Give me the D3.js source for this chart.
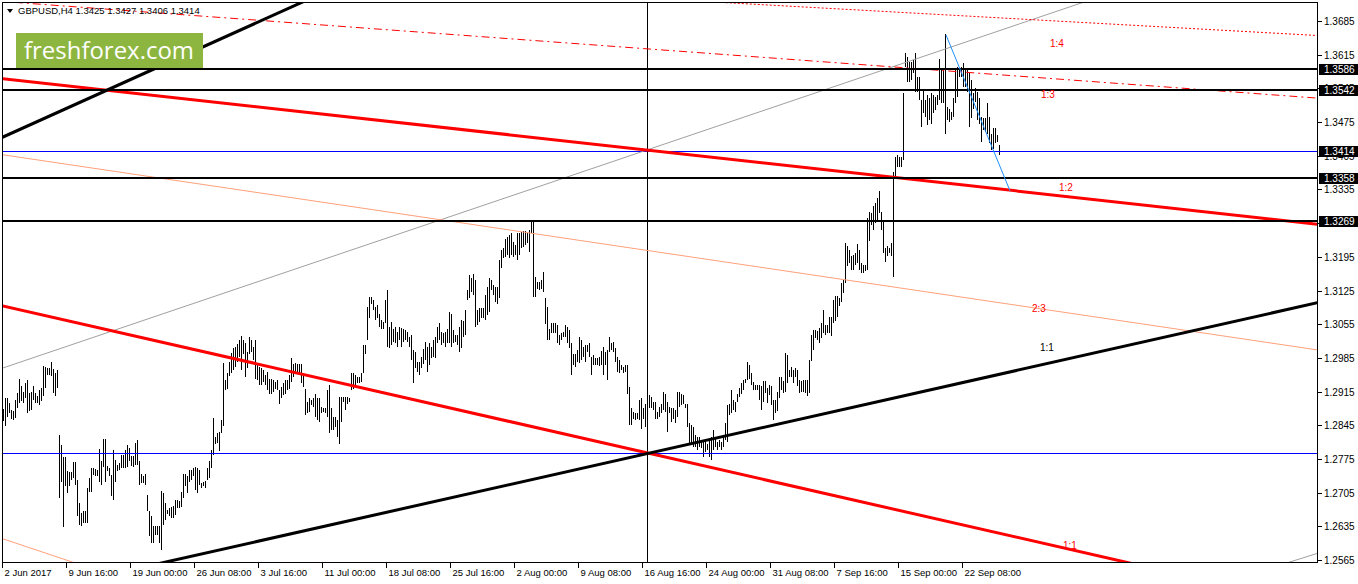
<!DOCTYPE html>
<html><head><meta charset="utf-8">
<script src="https://cdn.jsdelivr.net/npm/d3@7"></script>
<style>
body{margin:0;background:#fff;}
svg{display:block;font-family:"Liberation Sans",Arial,sans-serif;}
</style>
</head><body>
<svg id="c" width="1358" height="584"></svg>
<script>
// ---- DATA ----
const symbolTitle = "GBPUSD,H4";
const lastOHLC = [1.3425, 1.3427, 1.3406, 1.3414];

// H4 bar highs / lows (bar index 0 = 2 Jun 2017)
const barHigh = [
1.2879,1.2902,1.2902,1.2891,1.2877,1.2874,1.2898,1.2913,1.2941,1.2927,
1.2915,1.2933,1.2940,1.2912,1.2915,1.2926,1.2913,1.2906,1.2919,1.2922,
1.2969,1.2967,1.2964,1.2964,1.2977,1.2962,1.2953,1.2960,1.2825,1.2805,
1.2780,1.2780,1.2749,1.2747,1.2748,1.2768,1.2769,1.2732,1.2683,1.2662,
1.2666,1.2666,1.2714,1.2735,1.2756,1.2756,1.2754,1.2753,1.2796,1.2770,
1.2816,1.2816,1.2761,1.2756,1.2742,1.2794,1.2773,1.2763,1.2766,1.2784,
1.2784,1.2794,1.2805,1.2798,1.2782,1.2782,1.2808,1.2814,1.2770,1.2744,
1.2740,1.2744,1.2701,1.2666,1.2656,1.2636,1.2635,1.2635,1.2635,1.2709,
1.2704,1.2683,1.2669,1.2673,1.2676,1.2678,1.2690,1.2690,1.2687,1.2707,
1.2744,1.2744,1.2739,1.2753,1.2753,1.2756,1.2759,1.2756,1.2753,1.2725,
1.2728,1.2730,1.2756,1.2770,1.2794,1.2860,1.2820,1.2829,1.2832,1.2856,
1.2974,1.2940,1.2953,1.2976,1.2995,1.3005,1.3008,1.3014,1.3022,1.3030,
1.3022,1.3015,1.2998,1.3029,1.3023,1.3008,1.3022,1.2973,1.2967,1.2963,
1.2960,1.2949,1.2956,1.2942,1.2942,1.2939,1.2935,1.2939,1.2918,1.2925,
1.2932,1.2939,1.2939,1.2949,1.2984,1.2973,1.2975,1.2972,1.2973,1.2973,
1.2953,1.2921,1.2894,1.2901,1.2897,1.2901,1.2911,1.2901,1.2901,1.2883,
1.2880,1.2880,1.2918,1.2928,1.2880,1.2863,1.2863,1.2856,1.2904,1.2904,
1.2904,1.2904,1.2904,1.2901,1.2953,1.2953,1.2949,1.2946,1.2946,1.2953,
1.3012,1.3012,1.3091,1.3112,1.3112,1.3105,1.3091,1.3095,1.3077,1.3064,
1.3060,1.3105,1.3126,1.3050,1.3060,1.3046,1.3050,1.3039,1.3050,1.3048,
1.3046,1.3043,1.3039,1.3029,1.3032,1.3001,1.2998,1.2977,1.2977,1.2987,
1.3003,1.3018,1.3008,1.3015,1.3008,1.3022,1.3029,1.3050,1.3057,1.3039,
1.3036,1.3039,1.3046,1.3081,1.3077,1.3043,1.3032,1.3032,1.3050,1.3064,
1.3062,1.3084,1.3126,1.3157,1.3150,1.3159,1.3147,1.3084,1.3088,1.3088,
1.3088,1.3116,1.3133,1.3150,1.3147,1.3136,1.3133,1.3133,1.3188,1.3209,
1.3213,1.3233,1.3237,1.3240,1.3244,1.3226,1.3219,1.3244,1.3244,1.3246,
1.3249,1.3249,1.3244,1.3251,1.3268,1.3268,1.3154,1.3143,1.3143,1.3147,
1.3164,1.3110,1.3091,1.3046,1.3057,1.3057,1.3057,1.3053,1.3032,1.3037,
1.3039,1.3053,1.3050,1.3043,1.3015,1.2994,1.2994,1.3001,1.3029,1.3022,
1.3008,1.3012,1.3012,1.3015,1.2987,1.2991,1.2984,1.2984,1.2987,1.3000,
1.3008,1.2998,1.3001,1.3029,1.3015,1.3019,1.3005,1.2987,1.2980,1.2970,
1.2967,1.2970,1.2970,1.2925,1.2880,1.2873,1.2870,1.2871,1.2897,1.2901,
1.2880,1.2890,1.2897,1.2908,1.2904,1.2894,1.2894,1.2873,1.2883,1.2890,
1.2915,1.2911,1.2894,1.2883,1.2880,1.2880,1.2877,1.2915,1.2915,1.2911,
1.2908,1.2890,1.2890,1.2849,1.2845,1.2842,1.2825,1.2821,1.2821,1.2814,
1.2814,1.2811,1.2807,1.2814,1.2821,1.2835,1.2821,1.2811,1.2814,1.2811,
1.2821,1.2849,1.2887,1.2890,1.2918,1.2897,1.2894,1.2911,1.2922,1.2932,
1.2939,1.2942,1.2977,1.2970,1.2953,1.2935,1.2928,1.2928,1.2928,1.2926,
1.2936,1.2936,1.2922,1.2929,1.2926,1.2898,1.2898,1.2915,1.2946,1.2946,
1.2936,1.2995,1.2991,1.2960,1.2967,1.2960,1.2964,1.2960,1.2939,1.2936,
1.2939,1.2939,1.2939,1.2981,1.3033,1.3043,1.3043,1.3040,1.3047,1.3057,
1.3085,1.3054,1.3054,1.3071,1.3071,1.3106,1.3113,1.3113,1.3109,1.3140,
1.3147,1.3224,1.3217,1.3210,1.3196,1.3199,1.3203,1.3222,1.3210,1.3182,
1.3178,1.3178,1.3276,1.3289,1.3286,1.3300,1.3307,1.3317,1.3331,1.3289,
1.3272,1.3213,1.3217,1.3213,1.3224,1.3372,1.3403,1.3406,1.3403,1.3403,
1.3535,1.3618,1.3611,1.3600,1.3600,1.3604,1.3618,1.3569,1.3569,1.3521,
1.3541,1.3521,1.3531,1.3524,1.3535,1.3531,1.3527,1.3531,1.3607,1.3587,
1.3587,1.3659,1.3507,1.3503,1.3496,1.3524,1.3583,1.3590,1.3587,1.3590,
1.3597,1.3583,1.3583,1.3576,1.3562,1.3535,1.3545,1.3538,1.3524,1.3486,
1.3483,1.3483,1.3514,1.3486,1.3451,1.3462,1.3462,1.3448,1.3427];

const barLow = [
1.2853,1.2844,1.2863,1.2870,1.2858,1.2856,1.2860,1.2881,1.2891,1.2895,
1.2891,1.2902,1.2870,1.2874,1.2877,1.2898,1.2891,1.2891,1.2888,1.2895,
1.2905,1.2922,1.2950,1.2950,1.2947,1.2913,1.2906,1.2922,1.2694,1.2728,
1.2633,1.2718,1.2704,1.2718,1.2732,1.2735,1.2721,1.2656,1.2638,1.2636,
1.2642,1.2642,1.2642,1.2707,1.2707,1.2742,1.2740,1.2739,1.2728,1.2721,
1.2759,1.2728,1.2749,1.2739,1.2697,1.2690,1.2728,1.2749,1.2753,1.2756,
1.2756,1.2756,1.2759,1.2770,1.2761,1.2759,1.2763,1.2763,1.2721,1.2725,
1.2725,1.2721,1.2666,1.2614,1.2600,1.2601,1.2617,1.2617,1.2600,1.2586,
1.2638,1.2649,1.2661,1.2656,1.2652,1.2652,1.2659,1.2673,1.2673,1.2676,
1.2694,1.2718,1.2704,1.2728,1.2732,1.2739,1.2711,1.2704,1.2721,1.2714,
1.2718,1.2714,1.2732,1.2735,1.2756,1.2784,1.2807,1.2808,1.2791,1.2829,
1.2843,1.2919,1.2920,1.2947,1.2953,1.2960,1.2966,1.2977,1.2987,1.2960,
1.2994,1.2946,1.2963,1.2994,1.2998,1.2980,1.2942,1.2939,1.2928,1.2928,
1.2935,1.2928,1.2918,1.2911,1.2911,1.2915,1.2921,1.2918,1.2890,1.2901,
1.2908,1.2911,1.2918,1.2921,1.2935,1.2946,1.2953,1.2953,1.2949,1.2932,
1.2925,1.2866,1.2870,1.2873,1.2887,1.2883,1.2863,1.2856,1.2852,1.2870,
1.2873,1.2870,1.2863,1.2828,1.2835,1.2835,1.2842,1.2821,1.2807,1.2852,
1.2894,1.2876,1.2890,1.2894,1.2918,1.2921,1.2925,1.2932,1.2933,1.2935,
1.2953,1.2994,1.3022,1.3067,1.3098,1.3084,1.3064,1.3067,1.3050,1.3046,
1.3046,1.3057,1.3008,1.3005,1.3012,1.3018,1.3015,1.3008,1.3022,1.3008,
1.3018,1.3022,1.3018,1.3008,1.2980,1.2932,1.2963,1.2956,1.2949,1.2963,
1.2973,1.2980,1.2956,1.2970,1.2984,1.2987,1.2984,1.3015,1.3022,1.3012,
1.3015,1.3008,1.3015,1.3015,1.3008,1.3015,1.3018,1.3012,1.2998,1.3005,
1.3029,1.3032,1.3105,1.3109,1.3122,1.3115,1.3050,1.3053,1.3060,1.3067,
1.3067,1.3064,1.3074,1.3081,1.3126,1.3115,1.3102,1.3098,1.3109,1.3171,
1.3192,1.3195,1.3199,1.3192,1.3199,1.3195,1.3199,1.3188,1.3199,1.3213,
1.3216,1.3219,1.3223,1.3206,1.3244,1.3112,1.3112,1.3129,1.3126,1.3129,
1.3122,1.3055,1.3022,1.3022,1.3036,1.3036,1.3036,1.3015,1.3012,1.3022,
1.3029,1.3029,1.3015,1.3005,1.2949,1.2970,1.2967,1.2977,1.2974,1.2980,
1.2987,1.2977,1.2998,1.2987,1.2949,1.2970,1.2970,1.2970,1.2968,1.2970,
1.2949,1.2970,1.2939,1.2998,1.3001,1.2998,1.2977,1.2956,1.2953,1.2960,
1.2953,1.2956,1.2911,1.2845,1.2845,1.2859,1.2856,1.2859,1.2856,1.2838,
1.2859,1.2842,1.2863,1.2880,1.2880,1.2877,1.2859,1.2859,1.2863,1.2870,
1.2877,1.2873,1.2831,1.2870,1.2852,1.2859,1.2849,1.2863,1.2883,1.2887,
1.2890,1.2880,1.2842,1.2804,1.2807,1.2800,1.2800,1.2793,1.2800,1.2797,
1.2780,1.2790,1.2793,1.2780,1.2773,1.2793,1.2800,1.2793,1.2800,1.2793,
1.2800,1.2814,1.2811,1.2866,1.2870,1.2877,1.2873,1.2894,1.2904,1.2911,
1.2918,1.2932,1.2939,1.2942,1.2928,1.2918,1.2918,1.2918,1.2897,1.2877,
1.2894,1.2912,1.2891,1.2908,1.2887,1.2856,1.2870,1.2874,1.2901,1.2919,
1.2912,1.2915,1.2932,1.2946,1.2946,1.2932,1.2946,1.2926,1.2912,1.2915,
1.2915,1.2912,1.2905,1.2912,1.2978,1.3002,1.3026,1.3022,1.3016,1.3026,
1.3036,1.3033,1.3036,1.3036,1.3030,1.3057,1.3061,1.3071,1.3092,1.3102,
1.3120,1.3140,1.3175,1.3182,1.3168,1.3168,1.3178,1.3182,1.3168,1.3161,
1.3161,1.3165,1.3168,1.3227,1.3262,1.3251,1.3265,1.3272,1.3286,1.3251,
1.3203,1.3185,1.3196,1.3203,1.3196,1.3154,1.3361,1.3382,1.3382,1.3382,
1.3396,1.3590,1.3559,1.3559,1.3562,1.3576,1.3538,1.3538,1.3521,1.3465,
1.3493,1.3486,1.3469,1.3479,1.3472,1.3493,1.3500,1.3510,1.3521,1.3514,
1.3514,1.3451,1.3479,1.3476,1.3479,1.3486,1.3514,1.3528,1.3569,1.3569,
1.3548,1.3548,1.3538,1.3465,1.3483,1.3503,1.3517,1.3479,1.3472,1.3434,
1.3458,1.3455,1.3451,1.3431,1.3417,1.3420,1.3431,1.3434,1.3406];

// Price axis tick labels
const priceTicks = [1.3685,1.3615,1.3545,1.3475,1.3405,1.3335,1.3265,1.3195,1.3125,
                    1.3055,1.2985,1.2915,1.2845,1.2775,1.2705,1.2635,1.2565];
// Highlighted price labels (horizontal levels)
const highlightLevels = [1.3586, 1.3542, 1.3414, 1.3358, 1.3269];

// Time axis: bar index of each label and its text
const timeTickBars = [0,32,64,96,128,160,192,224,256,288,320,352,384,416,448,480];
const timeTickLabels = ["2 Jun 2017","9 Jun 16:00","19 Jun 00:00","26 Jun 08:00","3 Jul 16:00",
  "11 Jul 00:00","18 Jul 08:00","25 Jul 16:00","2 Aug 00:00","9 Aug 08:00","16 Aug 16:00",
  "24 Aug 00:00","31 Aug 08:00","7 Sep 16:00","15 Sep 00:00","22 Sep 08:00"];

// Horizontal levels
const blackLevels = [1.3586, 1.3542, 1.3358, 1.3269];
const blueLevels = [1.3414, 1.2787];
const verticalLineBar = [322];

// Trend lines as two anchor points [barIndex, price]
const blackUpper = [[0,1.3444],[149,1.3723]];
const blackLower = [[81.5,1.2561],[656.5,1.3099]];
const redLower   = [[0,1.3093],[561,1.2561]];
const redUpper   = [[0,1.3565],[656.5,1.3263]];
const salmonMain = [[0,1.3407],[656.5,1.3002]];
const salmonLow  = [[0,1.2609],[34.5,1.2561]];
const grayMain   = [[-1.5,1.2962],[539.5,1.3723]];
const grayLow    = [[643.5,1.2561],[656.5,1.2578]];
const redDashDot = [[11.5,1.3722],[656.5,1.3525]];
const redDotted  = [[362,1.3723],[656.5,1.3655]];
const swingLine  = [[471.5,1.3656],[503.5,1.3332]];

// Ratio labels [barIndex, price, text]
const ratioLabels = [[523.5,1.3631,"1:4"],[519,1.3525,"1:3"],[528,1.3332,"1:2"],
                     [514.5,1.3080,"2:3"],[518.5,1.2999,"1:1"],[530,1.2588,"1:1"]];
const ratioLabelColors = ["#ff0000","#ff0000","#ff0000","#ff0000","#000000","#ff0000"];

// ---- DRAWING ----
const svg = d3.select("#c");
const x = d3.scaleLinear().domain([0, 656.5]).range([3, 1316]);
const y = d3.scaleLinear().domain([1.25609, 1.37224]).range([562, 3]);

svg.append("defs").append("clipPath").attr("id","plotclip")
  .append("rect").attr("x",3).attr("y",3).attr("width",1314).attr("height",559);

const plot = svg.append("g").attr("clip-path","url(#plotclip)");

// bars
plot.append("g").selectAll("line").data(barHigh).join("line")
  .attr("x1",(d,i)=>Math.round(x(i))+0.5).attr("x2",(d,i)=>Math.round(x(i))+0.5)
  .attr("y1",d=>Math.round(y(d)))
  .attr("y2",(d,i)=>Math.max(Math.round(y(barLow[i])), Math.round(y(d))+1))
  .attr("stroke","#000").attr("stroke-width",1).attr("shape-rendering","crispEdges");

function ext(a,b){
  const s=(b[1]-a[1])/(b[0]-a[0]); const i0=-30, i1=720;
  return [[i0,a[1]+s*(i0-a[0])],[i1,a[1]+s*(i1-a[0])]];
}
function drawLine(pts, color, w, dash, infinite=true){
  const p = infinite ? ext(pts[0],pts[1]) : pts;
  const l = plot.append("line")
    .attr("x1",x(p[0][0])).attr("y1",y(p[0][1]))
    .attr("x2",x(p[1][0])).attr("y2",y(p[1][1]))
    .attr("stroke",color).attr("stroke-width",w).attr("fill","none");
  if(dash) l.attr("stroke-dasharray",dash);
  return l;
}

// horizontal levels
blueLevels.forEach(v=>{
  plot.append("line").attr("x1",3).attr("x2",1317)
    .attr("y1",Math.round(y(v))+0.5).attr("y2",Math.round(y(v))+0.5)
    .attr("stroke","#0000ff").attr("stroke-width",1).attr("shape-rendering","crispEdges");
});
verticalLineBar.forEach(b=>{
  plot.append("line").attr("x1",Math.round(x(b))+0.5).attr("x2",Math.round(x(b))+0.5)
    .attr("y1",3).attr("y2",562).attr("stroke","#000").attr("stroke-width",1)
    .attr("shape-rendering","crispEdges");
});

drawLine(grayMain,"#a0a0a0",1);
drawLine(grayLow,"#a0a0a0",1);
drawLine(salmonMain,"#ffa07a",1);
drawLine(salmonLow,"#ffa07a",1);
drawLine(redDashDot,"#ff0000",1,"8,4,2,4");
drawLine(redDotted,"#ff0000",1,"2,2");
drawLine(redUpper,"#ff0000",3);
drawLine(redLower,"#ff0000",3);
drawLine(blackUpper,"#000000",3);
drawLine(blackLower,"#000000",3);

blackLevels.forEach(v=>{
  plot.append("line").attr("x1",3).attr("x2",1317)
    .attr("y1",Math.round(y(v))).attr("y2",Math.round(y(v)))
    .attr("stroke","#000").attr("stroke-width",2).attr("shape-rendering","crispEdges");
});
drawLine(swingLine,"#1e90ff",1,null,false);

// ratio labels
plot.append("g").selectAll("text").data(ratioLabels).join("text")
  .attr("x",d=>x(d[0])).attr("y",d=>y(d[1]))
  .attr("fill",(d,i)=>ratioLabelColors[i])
  .attr("font-size","10px").text(d=>d[2]);

// frame
svg.append("rect").attr("x",2.5).attr("y",2.5).attr("width",1315).attr("height",560)
  .attr("fill","none").attr("stroke","#000").attr("stroke-width",1).attr("shape-rendering","crispEdges");

// price axis
const pa = svg.append("g");
priceTicks.forEach(t=>{
  const yy = Math.round(y(t))+0.5;
  pa.append("line").attr("x1",1318).attr("x2",1322).attr("y1",yy).attr("y2",yy)
    .attr("stroke","#000").attr("shape-rendering","crispEdges");
  pa.append("text").attr("x",1324).attr("y",yy+3.5).attr("font-size","10px")
    .attr("fill","#000").text(d3.format(".4f")(t));
});
highlightLevels.forEach(v=>{
  const yy = y(v);
  pa.append("rect").attr("x",1319).attr("y",Math.round(yy)-5.5).attr("width",39).attr("height",11)
    .attr("fill","#000").attr("shape-rendering","crispEdges");
  pa.append("text").attr("x",1324).attr("y",Math.round(yy)+4).attr("font-size","10px")
    .attr("fill","#fff").text(d3.format(".4f")(v));
});

// time axis
const ta = svg.append("g");
timeTickBars.forEach((b,k)=>{
  const xx = Math.round(x(b))-0.5;
  ta.append("line").attr("x1",xx).attr("x2",xx).attr("y1",563).attr("y2",568)
    .attr("stroke","#000").attr("shape-rendering","crispEdges");
  ta.append("text").attr("x",xx+2).attr("y",576).attr("font-size","9.5px")
    .attr("fill","#000").text(timeTickLabels[k]);
});

// header
svg.append("path").attr("d","M7,9 L13,9 L10,13 Z").attr("fill","#000");
svg.append("text").attr("x",18).attr("y",14).attr("font-size","9.5px").attr("fill","#000")
  .text(symbolTitle+" "+lastOHLC.map(d3.format(".4f")).join(" "));

// logo
svg.append("rect").attr("x",16).attr("y",33).attr("width",187).attr("height",35).attr("fill","#8db640");
svg.append("text").attr("x",24).attr("y",59).attr("font-family","'Open Sans',sans-serif")
  .attr("font-size","23px").attr("fill","#ffffff").attr("textLength",170)
  .attr("lengthAdjust","spacingAndGlyphs").text("freshforex.com");
</script>
</body></html>
